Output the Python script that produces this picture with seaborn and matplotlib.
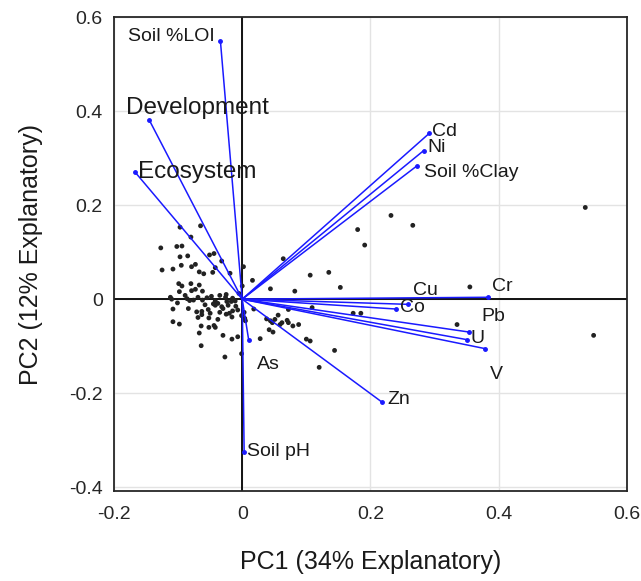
import matplotlib
matplotlib.use("Agg")
import numpy as np
import pandas as pd
import matplotlib.pyplot as plt
import seaborn as sns

# loadings (PC1, PC2)
variables = ['Soil %LOI', 'Development', 'Ecosystem', 'Cd', 'Ni', 'Soil %Clay',
             'Cu', 'Co', 'Cr', 'Pb', 'U', 'V', 'Zn', 'As', 'Soil pH']
load_pc1 = [-0.034, -0.145, -0.167, 0.292, 0.283, 0.273,
            0.258, 0.240, 0.383, 0.354, 0.350, 0.378, 0.218, 0.010, 0.003]
load_pc2 = [0.549, 0.381, 0.270, 0.353, 0.316, 0.284,
            -0.011, -0.021, 0.004, -0.070, -0.086, -0.105, -0.219, -0.086, -0.326]

# sample scores
score_pc1 = [-0.097, -0.065, -0.080, -0.127, -0.102, -0.094, -0.097, -0.085, -0.051, -0.044,
             -0.032, -0.125, -0.108, -0.095, -0.079, -0.073, -0.067, -0.060, -0.046, -0.042,
             -0.019, -0.099, -0.094, -0.080, -0.067, -0.062, -0.079, -0.073, -0.098, -0.089,
             -0.112, -0.110, -0.101, -0.086, -0.076, -0.069, -0.062, -0.048, -0.042, -0.035,
             -0.026, -0.024, -0.017, -0.011, -0.005, -0.108, -0.084, -0.071, -0.063, -0.053,
             -0.042, -0.038, -0.032, -0.022, -0.015, -0.007, -0.063, -0.069, -0.052, -0.038,
             -0.025, -0.016, -0.001, 0.004, -0.108, -0.098, -0.064, -0.052, -0.044, -0.042,
             -0.030, -0.016, -0.007, -0.067, -0.064, 0.003, 0.005, -0.082, -0.055, -0.045,
             -0.030, -0.020, -0.035, -0.050, -0.010, -0.058, -0.025, -0.015,
             0.232, 0.266, 0.180, 0.191, 0.064, 0.106, 0.135, 0.153, 0.044, 0.082,
             0.355, 0.535, 0.548, 0.335, 0.173, 0.185, 0.144, 0.120, 0.109, 0.072,
             0.028, 0.016, 0.002, 0.000, 0.018, 0.038, 0.044, 0.051, 0.056, 0.047,
             0.059, 0.062, 0.070, 0.072, 0.079, 0.088, 0.042, 0.048, 0.100, 0.106,
             -0.001, 0.003, -0.027]
score_pc2 = [0.153, 0.156, 0.132, 0.109, 0.112, 0.113, 0.090, 0.092, 0.094, 0.097,
             0.081, 0.062, 0.064, 0.072, 0.069, 0.074, 0.058, 0.054, 0.057, 0.067,
             0.055, 0.033, 0.028, 0.033, 0.030, 0.017, 0.018, 0.021, 0.016, 0.008,
             0.004, 0.000, -0.008, 0.001, -0.002, 0.004, -0.002, 0.006, -0.004, 0.008,
             0.004, -0.005, -0.005, -0.004, 0.012, -0.021, -0.020, -0.027, -0.026, -0.022,
             -0.013, -0.009, -0.016, -0.013, -0.025, -0.023, -0.033, -0.039, -0.040, -0.043,
             -0.032, -0.038, -0.035, -0.041, -0.048, -0.053, -0.057, -0.060, -0.056, -0.060,
             -0.077, -0.085, -0.080, -0.072, -0.099, -0.028, -0.046, -0.003, 0.003, -0.010,
             -0.020, -0.030, -0.028, -0.030, -0.015, -0.012, 0.010, 0.002,
             0.178, 0.157, 0.148, 0.115, 0.086, 0.051, 0.057, 0.025, 0.022, 0.017,
             0.026, 0.195, -0.077, -0.054, -0.030, -0.030, -0.109, -0.145, -0.018, -0.022,
             -0.084, 0.040, 0.069, 0.028, -0.021, -0.042, -0.046, -0.043, -0.034, -0.050,
             -0.054, -0.050, -0.045, -0.050, -0.057, -0.054, -0.065, -0.070, -0.085, -0.089,
             -0.116, -0.043, -0.123]

# label placement relative to arrow tip (points), alignment
label_offset = {
    'Soil %LOI': (-4, 3, 'right'), 'Development': (-17, 9, 'left'), 'Ecosystem': (2, 0, 'left'),
    'Cd': (2, 1, 'left'), 'Ni': (3, 2, 'left'), 'Soil %Clay': (5, -5, 'left'),
    'Cu': (4, 10, 'left'), 'Co': (3, 1, 'left'), 'Cr': (3, 8, 'left'),
    'Pb': (9, 11, 'left'), 'U': (3, 1, 'left'), 'V': (4, -19, 'left'),
    'Zn': (4, 2, 'left'), 'As': (6, -18, 'left'), 'Soil pH': (2, 1, 'left'),
}
big_labels = ['Development', 'Ecosystem']

sns.set_style("white")
plt.rcParams['font.family'] = ['Liberation Sans', 'DejaVu Sans']

fig = plt.figure(figsize=(6.41, 5.81), dpi=100)
ax = fig.add_axes([0.1778, 0.1549, 0.8003, 0.8158])

scores = pd.DataFrame({'PC1': score_pc1, 'PC2': score_pc2})
loads = pd.DataFrame({'var': variables, 'PC1': load_pc1, 'PC2': load_pc2})

ax.grid(True, color='#e3e3e3', linewidth=1)
ax.set_axisbelow(True)
ax.axhline(0, color='black', linewidth=1.3, zorder=1)
ax.axvline(0, color='black', linewidth=1.3, zorder=1)

sns.scatterplot(data=scores, x='PC1', y='PC2', color='#222222', s=12,
                edgecolor='none', ax=ax, zorder=3)

for _, r in loads.iterrows():
    ax.plot([0, r.PC1], [0, r.PC2], color='#1a1aff', linewidth=1.1, zorder=4)
    ax.plot(r.PC1, r.PC2, marker='o', markersize=2.5, color='#1a1aff', zorder=4)
    dx, dy, ha = label_offset[r['var']]
    fs = 17.5 if r['var'] in big_labels else 14
    ax.annotate(r['var'], (r.PC1, r.PC2), xytext=(dx, dy), textcoords='offset points',
                ha=ha, va='center', fontsize=fs, color='#1a1a1a', zorder=5)

ax.set_xlim(-0.2, 0.6)
ax.set_ylim(-0.408, 0.6)
ax.set_xticks([-0.2, 0, 0.2, 0.4, 0.6])
ax.set_xticklabels(['-0.2', '0', '0.2', '0.4', '0.6'])
ax.set_yticks([-0.4, -0.2, 0, 0.2, 0.4, 0.6])
ax.set_yticklabels(['-0.4', '-0.2', '0', '0.2', '0.4', '0.6'])
ax.tick_params(direction='in', length=4, width=1, labelsize=14, colors='#262626',
               labelcolor='#262626', pad=8)
ax.tick_params(axis='x', pad=11)
for sp in ax.spines.values():
    sp.set_color('#262626')
    sp.set_linewidth(1.3)

ax.set_xlabel('PC1 (34% Explanatory)', fontsize=18, color='#1a1a1a', labelpad=19)
ax.set_ylabel('PC2 (12% Explanatory)', fontsize=18, color='#1a1a1a', labelpad=19)

fig.savefig('out.png', dpi=100)
